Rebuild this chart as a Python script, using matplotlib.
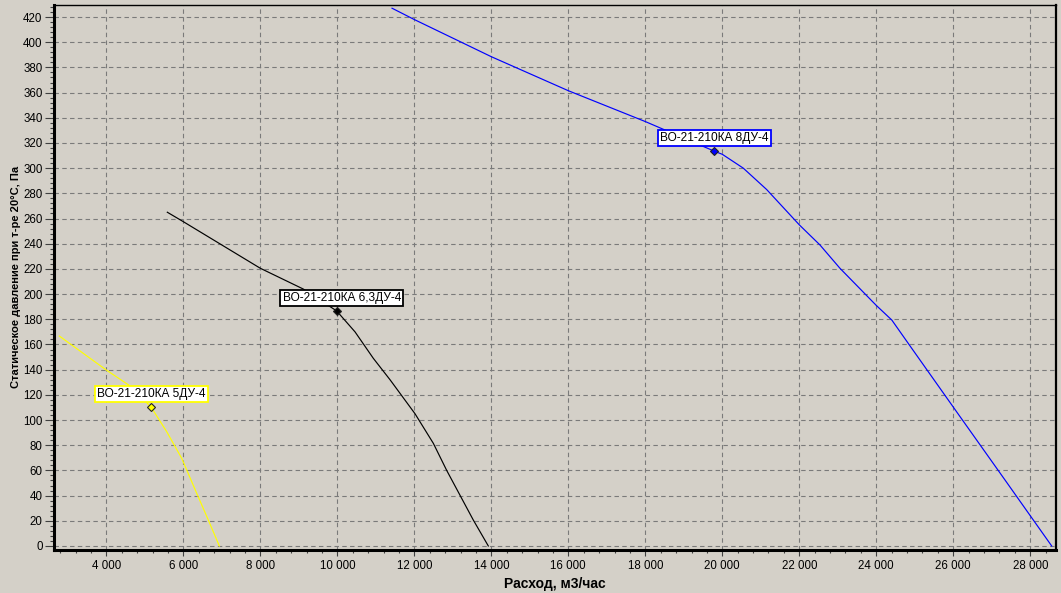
import matplotlib.pyplot as plt
import matplotlib.ticker as ticker

# Fan curves (flow m3/h, static pressure Pa)
blue_x = [11421, 12000, 14000, 16000, 18000, 19784, 20000, 20545, 21153, 22000,
          22537, 23056, 24000, 24403, 24919, 26122, 27343, 28000, 28556]
blue_y = [427, 418, 388.5, 361.5, 337, 313.6, 311, 300, 283, 255,
          239, 220.5, 191, 179.4, 157, 105, 52.4, 24, 0]

black_x = [5584, 6000, 8000, 9117, 9984, 10460, 10935, 11369, 12018, 12494,
           12841, 13532, 13922]
black_y = [265, 257.5, 220.5, 204, 186.6, 170, 149, 132, 105, 81.5,
           60, 20.6, 0]

yellow_x = [2779, 4000, 4571, 5161, 5569, 5958, 6348, 6649, 6935]
yellow_y = [166.7, 139.7, 128, 110.4, 90.7, 69.6, 41.8, 20.6, 0]

# Working points with their labels
point_names = ["ВО-21-210КА 5ДУ-4", "ВО-21-210КА 6,3ДУ-4", "ВО-21-210КА 8ДУ-4"]
point_x = [5161, 9984, 19784]
point_y = [110.4, 186.6, 313.6]
point_colors = ["#ffff00", "#000000", "#0000ff"]

bg = "#d4d0c8"
plt.rcParams["font.family"] = ["Liberation Sans", "DejaVu Sans"]

fig = plt.figure(figsize=(10.61, 5.93), dpi=100, facecolor=bg)
ax = fig.add_axes([0.0512, 0.0725, 0.995 - 0.0512, 0.9921 - 0.0725], facecolor=bg)

ax.set_xlim(2649, 28660)
ax.set_ylim(-3.2, 429.8)

# Grid
ax.grid(True, which="major", color="#7a7a7a", ls=(0, (4, 3)), lw=0.8)
ax.set_axisbelow(True)

for xs, ys, c in [(yellow_x, yellow_y, "#ffff00"), (black_x, black_y, "#000000"),
                  (blue_x, blue_y, "#0000ff")]:
    ax.plot(xs, ys, color=c, lw=0.85, zorder=3)

for name, px, py, c in zip(point_names, point_x, point_y, point_colors):
    ax.plot(px, py, marker="D", ms=4, mfc=c, mec="#202020", mew=0.8, zorder=4)
    ax.annotate(
        name, xy=(px, py), xytext=(-54, 7), textcoords="offset pixels",
        ha="left", va="bottom", fontsize=8.6, color="black", zorder=5,
        bbox=dict(boxstyle="square,pad=0.2", fc="white", ec=c, lw=1.3),
    )

# Spines
ax.spines["left"].set_linewidth(2.2)
ax.spines["bottom"].set_linewidth(2.2)
ax.spines["top"].set_linewidth(1.0)
ax.spines["right"].set_linewidth(1.6)
for s in ax.spines.values():
    s.set_color("black")

# Ticks
ax.xaxis.set_major_locator(ticker.MultipleLocator(2000))
ax.xaxis.set_minor_locator(ticker.MultipleLocator(400))
ax.yaxis.set_major_locator(ticker.MultipleLocator(20))
ax.yaxis.set_minor_locator(ticker.MultipleLocator(4))
ax.xaxis.set_major_formatter(
    ticker.FuncFormatter(lambda v, p: f"{int(v):,}".replace(",", " ")))

ax.tick_params(which="major", direction="out", length=4.5, width=0.8,
               color="#404040", labelsize=8.3, labelcolor="black", pad=3)
ax.tick_params(which="minor", direction="out", length=2.2, width=0.8, color="#404040")
ax.tick_params(axis="y", which="major", length=6.5, pad=2)
ax.tick_params(axis="y", which="minor", length=3)

ax.set_xlabel("Расход, м3/час", fontsize=10, fontweight="bold", labelpad=3)
ax.set_ylabel("Статическое давление при т-ре 20°С, Па", fontsize=8,
              fontweight="bold")
ax.yaxis.set_label_coords(-0.033, 0.5)

fig.savefig("out.png", dpi=100, facecolor=bg)
